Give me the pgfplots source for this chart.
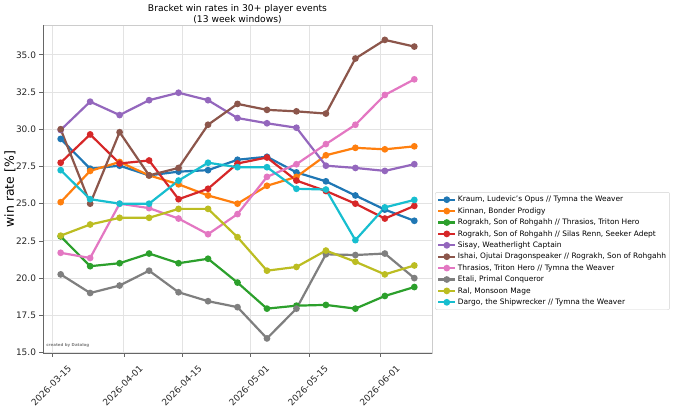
\documentclass[border=0pt]{standalone}
\usepackage{fontspec}
\setmainfont{DejaVu Sans}
\usepackage{pgfplots}
\usepackage{pgfplotstable}
\pgfplotsset{compat=1.18}
\definecolor{C0}{HTML}{1F77B4}
\definecolor{C1}{HTML}{FF7F0E}
\definecolor{C2}{HTML}{2CA02C}
\definecolor{C3}{HTML}{D62728}
\definecolor{C4}{HTML}{9467BD}
\definecolor{C5}{HTML}{8C564B}
\definecolor{C6}{HTML}{E377C2}
\definecolor{C7}{HTML}{7F7F7F}
\definecolor{C8}{HTML}{BCBD22}
\definecolor{C9}{HTML}{17BECF}
\pgfplotstableread{
x  kraum kinnan rogthr rogsil sisay ishai thrtym etali ral dargo
2  29.35 25.10 22.80 27.75 29.95 30.00 21.70 20.25 22.85 27.25
9  27.35 27.20 20.80 29.65 31.85 25.00 21.35 19.00 23.60 25.30
16 27.55 27.80 21.00 27.70 30.95 29.80 25.00 19.50 24.05 25.00
23 26.90 26.90 21.65 27.90 31.95 26.90 24.70 20.50 24.05 25.00
30 27.15 26.30 21.00 25.30 32.45 27.40 24.00 19.05 24.65 26.55
37 27.25 25.55 21.30 26.00 31.95 30.30 22.95 18.45 24.65 27.75
44 27.95 25.00 19.70 27.70 30.75 31.70 24.30 18.05 22.75 27.45
51 28.15 26.20 17.95 28.10 30.40 31.30 26.80 15.95 20.50 27.45
58 27.10 26.80 18.15 26.55 30.10 31.20 27.65 17.95 20.75 26.00
65 26.50 28.25 18.20 25.85 27.55 31.05 29.00 21.60 21.85 25.95
72 25.55 28.75 17.95 25.00 27.40 34.75 30.30 21.55 21.10 22.55
79 24.60 28.65 18.80 24.00 27.20 36.00 32.30 21.65 20.25 24.75
86 23.85 28.85 19.40 24.85 27.65 35.55 33.35 20.00 20.85 25.25
}\datatable
\begin{document}
\begin{tikzpicture}
\path[use as bounding box] (0,0) rectangle (680bp,408bp);
\begin{axis}[
  at={(43bp,54.7bp)}, anchor=south west,
  width=389bp, height=328.3bp, scale only axis,
  xmin=-2.2, xmax=90.2, ymin=14.95, ymax=37.0,
  xtick={0,17,31,47,61,78},
  xticklabels={2026-03-15,2026-04-01,2026-04-15,2026-05-01,2026-05-15,2026-06-01},
  ytick={15,17.5,20,22.5,25,27.5,30,32.5,35},
  yticklabel style={/pgf/number format/fixed,/pgf/number format/fixed zerofill,/pgf/number format/precision=1},
  /pgf/number format/assume math mode=true,
  tick label style={font=\fontsize{9}{10}\selectfont, text=black!85},
  xticklabel style={shift={(15bp,-3bp)}, rotate=45, anchor=north east},
  xtick pos=lower, ytick pos=left, tick align=outside,
  major tick length=3.5bp, tick style={gray!80!black, line width=0.6bp},
  grid=major, major grid style={gray!22, line width=0.8bp},
  axis line style={gray!40, line width=0.8bp},
  title={Bracket win rates in 30+ player events\\(13 week windows)},
  title style={align=center, font=\fontsize{9.2}{10.8}\selectfont, at={(axis description cs:0.5,1)}, anchor=south, yshift=-6bp, inner sep=1.5bp},
  ylabel={win rate [\%]},
  ylabel style={font=\fontsize{12.5}{14}\selectfont, at={(axis description cs:-0.085,0.5)}, anchor=center},
  legend style={at={(axis description cs:1.0077,0.491)}, anchor=north west,
    font=\fontsize{7.5}{8.5}\selectfont, draw=gray!35, rounded corners=2pt,
    inner xsep=2bp, inner ysep=2bp, row sep=0.6bp,
    nodes={inner sep=1.5bp, text height=6bp, text depth=1.8bp}},
  legend cell align=left,
  every axis plot/.append style={line width=2.2bp, mark=*, mark size=2.2bp},
]
\addplot[C0, mark options={fill=C0}] table[x=x,y=kraum]{\datatable};
\addlegendentry{Kraum, Ludevic's Opus // Tymna the Weaver}
\addplot[C1, mark options={fill=C1}] table[x=x,y=kinnan]{\datatable};
\addlegendentry{Kinnan, Bonder Prodigy}
\addplot[C2, mark options={fill=C2}] table[x=x,y=rogthr]{\datatable};
\addlegendentry{Rograkh, Son of Rohgahh // Thrasios, Triton Hero}
\addplot[C3, mark options={fill=C3}] table[x=x,y=rogsil]{\datatable};
\addlegendentry{Rograkh, Son of Rohgahh // Silas Renn, Seeker Adept}
\addplot[C4, mark options={fill=C4}] table[x=x,y=sisay]{\datatable};
\addlegendentry{Sisay, Weatherlight Captain}
\addplot[C5, mark options={fill=C5}] table[x=x,y=ishai]{\datatable};
\addlegendentry{Ishai, Ojutai Dragonspeaker // Rograkh, Son of Rohgahh}
\addplot[C6, mark options={fill=C6}] table[x=x,y=thrtym]{\datatable};
\addlegendentry{Thrasios, Triton Hero // Tymna the Weaver}
\addplot[C7, mark options={fill=C7}] table[x=x,y=etali]{\datatable};
\addlegendentry{Etali, Primal Conqueror}
\addplot[C8, mark options={fill=C8}] table[x=x,y=ral]{\datatable};
\addlegendentry{Ral, Monsoon Mage}
\addplot[C9, mark options={fill=C9}] table[x=x,y=dargo]{\datatable};
\addlegendentry{Dargo, the Shipwrecker // Tymna the Weaver}
\draw[gray!80!black, line width=0.8bp] (rel axis cs:0,1) -- (rel axis cs:0,0) -- (rel axis cs:1,0);
\node[anchor=south west, font=\bfseries\fontsize{4}{5}\selectfont, text=gray, inner sep=0pt] at (rel axis cs:0.008,0.018) {created by Datalog};
\end{axis}
\end{tikzpicture}
\end{document}
